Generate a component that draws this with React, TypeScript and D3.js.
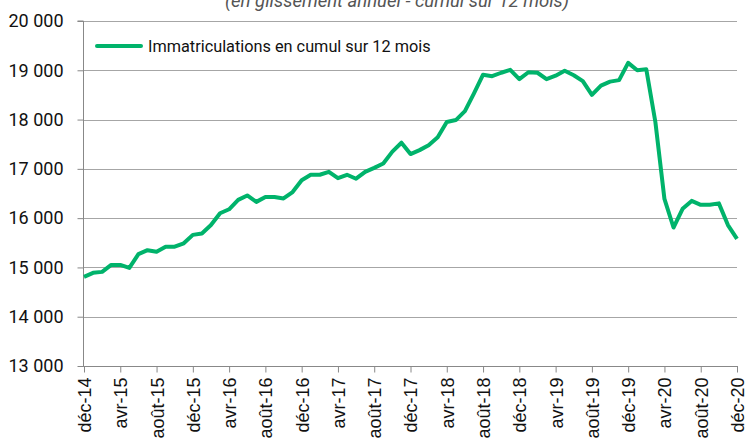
import React, { useEffect, useRef } from 'react';
import * as d3 from 'd3';

// cumul sur 12 mois, mensuel de déc-14 à déc-20
const values = [
  14810, 14890, 14910, 15050, 15050, 14990, 15270, 15350, 15320, 15420, 15420, 15490,
  15660, 15690, 15860, 16100, 16180, 16370, 16460, 16330, 16430, 16430, 16400, 16530,
  16770, 16880, 16880, 16940, 16810, 16880, 16800, 16940, 17020, 17110, 17350, 17530,
  17300, 17380, 17480, 17640, 17950, 17990, 18170, 18530, 18910, 18880, 18950, 19010,
  18820, 18960, 18950, 18820, 18890, 18990, 18900, 18780, 18500, 18690, 18770, 18800,
  19150, 19000, 19020, 17950, 16390, 15810, 16190, 16350, 16270, 16270, 16300, 15860,
  15580
];
const tickLabels = [
  'déc-14', 'avr-15', 'août-15', 'déc-15', 'avr-16', 'août-16', 'déc-16', 'avr-17', 'août-17',
  'déc-17', 'avr-18', 'août-18', 'déc-18', 'avr-19', 'août-19', 'déc-19', 'avr-20', 'août-20', 'déc-20'
];
const yTicks = [13000, 14000, 15000, 16000, 17000, 18000, 19000, 20000];
const seriesName = 'Immatriculations en cumul sur 12 mois';
const subtitle = '(en glissement annuel - cumul sur 12 mois)';

function App() {
  const ref = useRef<SVGSVGElement>(null);

  useEffect(() => {
    document.body.style.margin = '0';
    const svg = d3.select(ref.current);
    svg.selectAll('*').remove();

    const left = 84, right = 737, top = 21, bottom = 366;
    const x = d3.scaleLinear().domain([0, values.length - 1]).range([left, right]);
    const y = d3.scaleLinear().domain([13000, 20000]).range([bottom, top]);

    // subtitle (cut off at top, as in the original)
    svg.append('text')
      .attr('x', 397).attr('y', 7)
      .attr('text-anchor', 'middle')
      .style('font-family', 'Roboto, sans-serif')
      .style('font-style', 'italic')
      .style('font-size', '18.5px')
      .style('fill', '#555')
      .text(subtitle);

    // gridlines
    svg.append('g').selectAll('line')
      .data(yTicks.filter(d => d > 13000))
      .join('line')
      .attr('x1', left - 1).attr('x2', right)
      .attr('y1', d => Math.round(y(d)) + 0.5).attr('y2', d => Math.round(y(d)) + 0.5)
      .attr('stroke', '#a6a6a6').attr('stroke-width', 1);

    // y axis
    const yAxis = svg.append('g')
      .attr('transform', `translate(${left - 0.5},0)`)
      .call(d3.axisLeft(y).tickValues(yTicks).tickSize(6).tickPadding(14)
        .tickFormat(d => d3.format(',')(d as number).replace(',', ' ')));
    yAxis.select('.domain').attr('stroke', '#888').attr('d', `M-6,${y(20000)}H0V${y(13000)}`);
    yAxis.selectAll('.tick line').attr('stroke', '#888');
    yAxis.selectAll('.tick text')
      .style('font-family', 'Roboto, sans-serif')
      .style('font-size', '18px')
      .style('fill', '#111');

    // x axis
    const tickIdx = tickLabels.map((_, i) => i * 4);
    const xAxis = svg.append('g')
      .attr('transform', `translate(0,${bottom + 0.5})`)
      .call(d3.axisBottom(x).tickValues(tickIdx).tickSize(6).tickSizeOuter(0)
        .tickFormat((_, i) => tickLabels[i]));
    xAxis.select('.domain').attr('stroke', '#888').attr('d', `M${left - 1},0H${right + 1}`);
    xAxis.selectAll('.tick line').attr('stroke', '#888');
    xAxis.selectAll('.tick text')
      .attr('transform', 'rotate(-90)')
      .attr('x', -11).attr('y', 0).attr('dy', '0.36em')
      .attr('text-anchor', 'end')
      .style('font-family', '"Liberation Sans", Arial, sans-serif')
      .style('font-size', '18px')
      .style('fill', '#111');

    // series line
    const line = d3.line<number>().x((_, i) => x(i)).y(d => y(d));
    svg.append('path')
      .datum(values)
      .attr('d', line)
      .attr('fill', 'none')
      .attr('stroke', '#00b36b')
      .attr('stroke-width', 4)
      .attr('stroke-linejoin', 'round');

    // legend
    svg.append('line')
      .attr('x1', 97).attr('x2', 141).attr('y1', 46).attr('y2', 46)
      .attr('stroke', '#00b36b').attr('stroke-width', 4).attr('stroke-linecap', 'round');
    svg.append('text')
      .attr('x', 148).attr('y', 52)
      .style('font-family', 'Roboto, sans-serif')
      .style('font-size', '16.3px')
      .style('fill', '#111')
      .text(seriesName);
  }, []);

  return (
    <svg ref={ref} width={745} height={439} style={{ display: 'block', position: 'absolute', left: 0, top: 0 }} />
  );
}

export default App;
